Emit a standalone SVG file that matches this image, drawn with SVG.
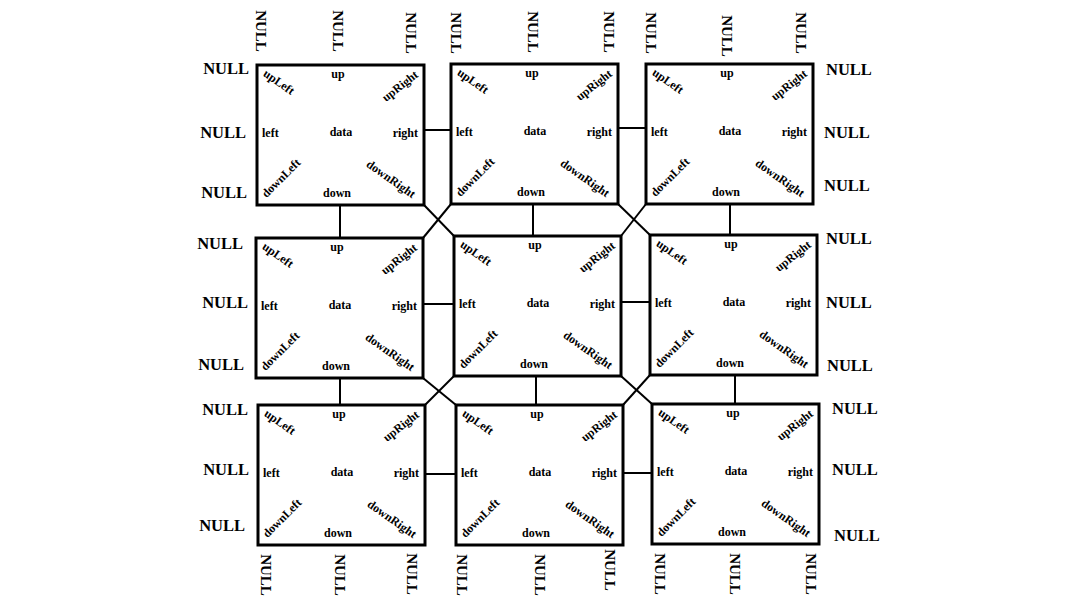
<svg xmlns="http://www.w3.org/2000/svg" width="1081" height="608" viewBox="0 0 1081 608">
<style>
.box{fill:#fff;stroke:#000;stroke-width:3}
.t{font-family:"Liberation Serif","Times New Roman",serif;font-weight:bold;font-size:12px;fill:#000}
.m{text-anchor:middle}
.e{text-anchor:end}
.c{text-anchor:middle;dominant-baseline:central}
.n{font-family:"Liberation Serif","Times New Roman",serif;font-weight:bold;font-size:16.5px;fill:#000}
.v{font-family:"Liberation Serif","Times New Roman",serif;font-weight:bold;font-size:15px;fill:#000;text-anchor:middle;dominant-baseline:central}
.ln{stroke:#000;stroke-width:2;fill:none}
</style>
<defs>
<g id="cell">
<rect class="box" x="0" y="0" width="167" height="140"/>
<text class="t m" x="81" y="13">up</text>
<text class="t m" x="84" y="71">data</text>
<text class="t" x="5" y="72">left</text>
<text class="t e" x="161" y="72">right</text>
<text class="t m" x="80" y="132">down</text>
<text class="t c" transform="translate(22,17) rotate(35)">upLeft</text>
<text class="t c" transform="translate(143,21) rotate(-38)">upRight</text>
<text class="t c" transform="translate(24,113) rotate(-45)">downLeft</text>
<text class="t c" transform="translate(134,114) rotate(35)">downRight</text>
</g>
</defs>
<rect width="1081" height="608" fill="#fff"/>
<g id="connectors">
<line class="ln" x1="424" y1="130" x2="451" y2="130"/>
<line class="ln" x1="618" y1="128" x2="646" y2="128"/>
<line class="ln" x1="423" y1="304" x2="454" y2="304"/>
<line class="ln" x1="621" y1="302" x2="650" y2="302"/>
<line class="ln" x1="425" y1="474" x2="456" y2="474"/>
<line class="ln" x1="623" y1="473" x2="652" y2="473"/>
<line class="ln" x1="340" y1="205" x2="340" y2="238"/>
<line class="ln" x1="533" y1="204" x2="533" y2="236"/>
<line class="ln" x1="730" y1="203" x2="730" y2="235"/>
<line class="ln" x1="340" y1="378" x2="340" y2="405"/>
<line class="ln" x1="536" y1="376" x2="536" y2="405"/>
<line class="ln" x1="735" y1="374" x2="735" y2="404"/>
<line class="ln" x1="424" y1="205" x2="454" y2="236"/>
<line class="ln" x1="451" y1="204" x2="423" y2="238"/>
<line class="ln" x1="618" y1="204" x2="650" y2="235"/>
<line class="ln" x1="646" y1="204" x2="621" y2="236"/>
<line class="ln" x1="423" y1="378" x2="456" y2="405"/>
<line class="ln" x1="454" y1="376" x2="425" y2="405"/>
<line class="ln" x1="621" y1="376" x2="652" y2="404"/>
<line class="ln" x1="650" y1="375" x2="623" y2="405"/>
</g>
<g id="n11"><use href="#cell" x="257" y="65"/></g>
<g id="n12"><use href="#cell" x="451" y="64"/></g>
<g id="n13"><use href="#cell" x="646" y="64"/></g>
<g id="n21"><use href="#cell" x="256" y="238"/></g>
<g id="n22"><use href="#cell" x="454" y="236"/></g>
<g id="n23"><use href="#cell" x="650" y="235"/></g>
<g id="n31"><use href="#cell" x="258" y="405"/></g>
<g id="n32"><use href="#cell" x="456" y="405"/></g>
<g id="n33"><use href="#cell" x="652" y="404"/></g>
<g id="null-left">
<text class="n e" x="249" y="74">NULL</text>
<text class="n e" x="246" y="138">NULL</text>
<text class="n e" x="247" y="198">NULL</text>
<text class="n e" x="243" y="249">NULL</text>
<text class="n e" x="248" y="308">NULL</text>
<text class="n e" x="244" y="370">NULL</text>
<text class="n e" x="248" y="415">NULL</text>
<text class="n e" x="249" y="475">NULL</text>
<text class="n e" x="245" y="531">NULL</text>
</g>
<g id="null-right">
<text class="n" x="826" y="75">NULL</text>
<text class="n" x="824" y="138">NULL</text>
<text class="n" x="824" y="191">NULL</text>
<text class="n" x="826" y="244">NULL</text>
<text class="n" x="826" y="308">NULL</text>
<text class="n" x="827" y="371">NULL</text>
<text class="n" x="832" y="414">NULL</text>
<text class="n" x="832" y="475">NULL</text>
<text class="n" x="834" y="541">NULL</text>
</g>
<g id="null-top">
<text class="v" transform="translate(261,31) rotate(90)">NULL</text>
<text class="v" transform="translate(338,31) rotate(90)">NULL</text>
<text class="v" transform="translate(411,33) rotate(90)">NULL</text>
<text class="v" transform="translate(456,33) rotate(90)">NULL</text>
<text class="v" transform="translate(533,32) rotate(90)">NULL</text>
<text class="v" transform="translate(609,32) rotate(90)">NULL</text>
<text class="v" transform="translate(651,33) rotate(90)">NULL</text>
<text class="v" transform="translate(727,36) rotate(90)">NULL</text>
<text class="v" transform="translate(801,33) rotate(90)">NULL</text>
</g>
<g id="null-bottom">
<text class="v" transform="translate(266,575) rotate(90)">NULL</text>
<text class="v" transform="translate(340,575) rotate(90)">NULL</text>
<text class="v" transform="translate(412,574) rotate(90)">NULL</text>
<text class="v" transform="translate(462,575) rotate(90)">NULL</text>
<text class="v" transform="translate(540,575) rotate(90)">NULL</text>
<text class="v" transform="translate(610,570) rotate(90)">NULL</text>
<text class="v" transform="translate(660,574) rotate(90)">NULL</text>
<text class="v" transform="translate(735,574) rotate(90)">NULL</text>
<text class="v" transform="translate(811,574) rotate(90)">NULL</text>
</g>
</svg>
